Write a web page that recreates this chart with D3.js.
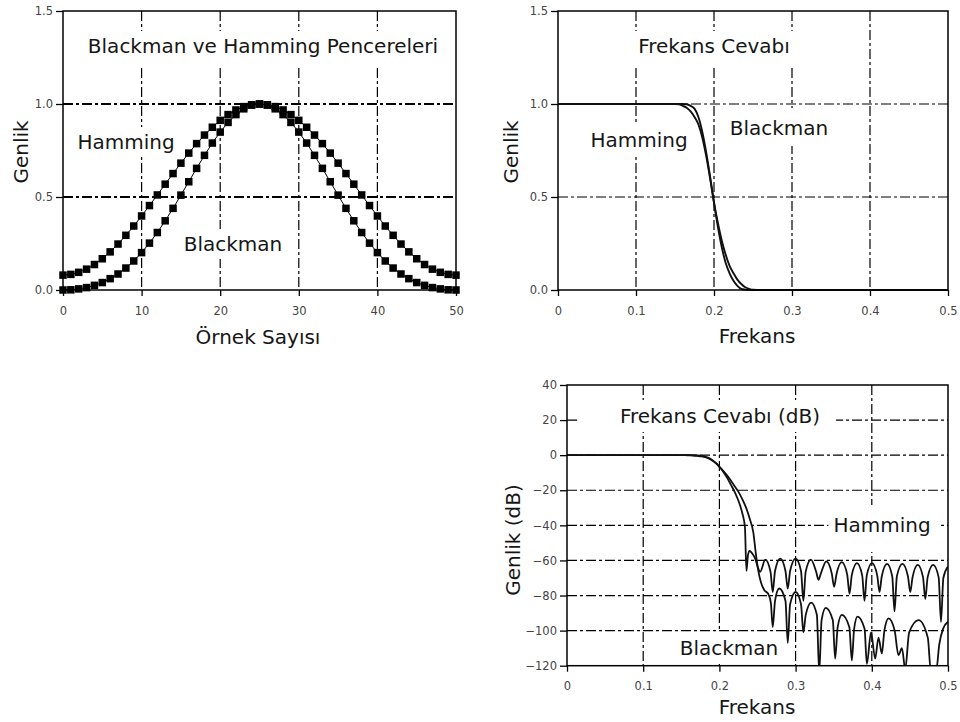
<!DOCTYPE html>
<html>
<head>
<meta charset="utf-8">
<script src="https://cdn.jsdelivr.net/npm/d3@7"></script>
<style>
  body { margin: 0; background: #fff; }
  svg text { font-family: "DejaVu Sans", Verdana, sans-serif; }
  .lbl { font-size: 20px; fill: #161616; }
  .tick text { font-size: 11.5px; fill: #444; }
  .tick line { stroke: #000; stroke-width: 1.3; }
</style>
</head>
<body>
<svg id="fig" width="960" height="722"></svg>
<script>
// ---- Window samples (n = 0 .. 50) ----
const sampleTicks = [0, 10, 20, 30, 40, 50];
const hammingWindow = [0.080,0.084,0.095,0.112,0.137,0.168,0.205,0.247,0.294,0.344,0.398,0.454,0.511,0.569,0.626,0.682,0.736,0.787,0.833,0.875,0.912,0.943,0.968,0.986,0.996,1.000,0.996,0.986,0.968,0.943,0.912,0.875,0.833,0.787,0.736,0.682,0.626,0.569,0.511,0.454,0.398,0.344,0.294,0.247,0.205,0.168,0.137,0.112,0.095,0.084,0.080];
const blackmanWindow = [0.000,0.001,0.006,0.013,0.025,0.040,0.061,0.086,0.118,0.156,0.201,0.252,0.309,0.372,0.439,0.510,0.582,0.654,0.724,0.790,0.849,0.901,0.943,0.974,0.994,1.000,0.994,0.974,0.943,0.901,0.849,0.790,0.724,0.654,0.582,0.510,0.439,0.372,0.309,0.252,0.201,0.156,0.118,0.086,0.061,0.040,0.025,0.013,0.006,0.001,0.000];

// ---- Linear frequency response ----
const ampTicks = [0, 0.5, 1.0, 1.5];
const freqTicks = [0, 0.1, 0.2, 0.3, 0.4, 0.5];
const respFreq = [0,0.05,0.10,0.15,0.155,0.16,0.165,0.17,0.175,0.18,0.185,0.19,0.195,0.20,0.205,0.21,0.215,0.22,0.225,0.23,0.235,0.24,0.245,0.25,0.26,0.30,0.40,0.50];
const hammingResp = [1,1,1,1,1,1,0.999,0.99,0.975,0.93,0.85,0.74,0.61,0.47,0.34,0.23,0.145,0.09,0.05,0.022,0.006,0.002,0.0005,0,0,0,0,0];
const blackmanResp = [1,1,1,1,0.998,0.99,0.98,0.96,0.93,0.89,0.82,0.72,0.6,0.47,0.36,0.265,0.19,0.13,0.09,0.056,0.032,0.015,0.006,0.001,0,0,0,0];

// ---- Frequency response in dB: [frequency, dB] ----
const dbTicks = [40, 20, 0, -20, -40, -60, -80, -100, -120];
const hammingDb = [
  [0,0],[0.10,0],[0.16,0],[0.165,-0.01],[0.17,-0.09],[0.175,-0.22],[0.18,-0.63],[0.185,-1.4],[0.19,-2.6],[0.195,-4.3],
  [0.20,-6.6],[0.205,-9.4],[0.21,-12.8],[0.215,-16.8],[0.22,-20.9],[0.225,-26],[0.23,-33],[0.2335,-41],
  [0.2355,-66],[0.2375,-57],[0.2395,-54.5],[0.243,-56],[0.247,-59],
  [0.2505,-64],[0.2534,-66.5],[0.2603,-59.5],[0.2671,-66.5],
  [0.2700,-78],[0.2730,-66],[0.2799,-59],[0.2867,-66],
  [0.2897,-76],[0.2928,-66],[0.3000,-59],[0.3071,-66],
  [0.3102,-83],[0.3132,-66.5],[0.3201,-59.5],[0.3270,-66.5],
  [0.3300,-71],[0.3331,-67.5],[0.3403,-60.5],[0.3475,-67.5],
  [0.3506,-75],[0.3536,-68],[0.3606,-61],[0.3677,-68],
  [0.3707,-79],[0.3737,-68.5],[0.3805,-61.5],[0.3874,-68.5],
  [0.3904,-83],[0.3934,-68.5],[0.4003,-61.5],[0.4071,-68.5],
  [0.4101,-78],[0.4131,-69],[0.4200,-62],[0.4268,-69],
  [0.4298,-89],[0.4329,-69],[0.4402,-62],[0.4474,-69],
  [0.4505,-78],[0.4535,-69.5],[0.4603,-62.5],[0.4672,-69.5],
  [0.4702,-82],[0.4733,-69.5],[0.4805,-62.5],[0.4877,-69.5],
  [0.4908,-95],[0.4939,-70],[0.5,-63.5]
];
const blackmanDb = [
  [0,0],[0.10,0],[0.155,0],[0.16,-0.09],[0.165,-0.18],[0.17,-0.35],[0.175,-0.63],[0.18,-1.0],[0.185,-1.7],[0.19,-2.85],[0.195,-4.4],
  [0.20,-6.6],[0.205,-8.9],[0.21,-11.5],[0.215,-14.4],[0.22,-17.7],[0.225,-20.9],[0.23,-25],[0.235,-29.9],[0.24,-36.5],
  [0.2445,-44],[0.2475,-55],[0.2505,-64.5],[0.2545,-72.5],[0.259,-77],[0.264,-79],[0.2675,-84],
  [0.2700,-98],[0.2730,-83],[0.2785,-76],[0.2867,-83],
  [0.2897,-107],[0.2928,-85],[0.3000,-78],[0.3071,-85],
  [0.3102,-101],[0.3133,-91],[0.3205,-84],[0.3279,-91],
  [0.3310,-124],[0.3341,-94],[0.3395,-87],[0.3488,-94],
  [0.3519,-116],[0.3552,-98],[0.3607,-91],[0.3705,-98],
  [0.3738,-117],[0.3768,-99],[0.3812,-92],[0.3905,-99],
  [0.3935,-119],[0.3990,-101],[0.4044,-116],[0.4088,-104],[0.4132,-113],
  [0.4165,-100],[0.4220,-93],[0.4300,-100],
  [0.4350,-114],[0.4395,-110],[0.4439,-122],
  [0.4490,-101],[0.4614,-94],[0.4735,-104],[0.4775,-123],[0.4845,-123],[0.4885,-108],[0.4935,-99],[0.5,-95]
];

const svg = d3.select("#fig");
const fmtAmp = d3.format(".1f");
const fmtFreq = d => d === 0 ? "0" : d3.format(".1f")(d);

// A framed plot area with dash-dot grid, boxed labels and tick axes.
function makePanel(cfg) {
  const x = d3.scaleLinear().domain(cfg.xDomain).range([cfg.left, cfg.right]);
  const y = d3.scaleLinear().domain(cfg.yDomain).range([cfg.bottom, cfg.top]);
  const g = svg.append("g");

  g.append("clipPath").attr("id", cfg.id + "-clip").append("rect")
    .attr("x", cfg.left).attr("y", cfg.top)
    .attr("width", cfg.right - cfg.left).attr("height", cfg.bottom - cfg.top);

  const grid = g.append("g").attr("fill", "none").attr("stroke", "#000").attr("stroke-dasharray", "10,3,3,3");
  grid.selectAll("line.v").data(cfg.xGrid).join("line").attr("class", "v")
    .attr("x1", d => x(d)).attr("x2", d => x(d))
    .attr("y1", cfg.top).attr("y2", cfg.bottom)
    .attr("stroke-width", 1.2);
  grid.selectAll("line.h").data(cfg.yGrid).join("line").attr("class", "h")
    .attr("x1", cfg.left).attr("x2", cfg.right)
    .attr("y1", d => y(d)).attr("y2", d => y(d))
    .attr("stroke-width", cfg.hGridWidth || 1.2);

  // labels sit on white boxes that hide the grid behind them
  const labels = g.append("g");
  cfg.labels.forEach(l => {
    const t = labels.append("text").attr("class", "lbl")
      .attr("x", l.x).attr("y", l.y).attr("text-anchor", "middle").text(l.text);
    const b = t.node().getBBox();
    const p = l.pad || [3, 5, 3, 5];
    labels.insert("rect", () => t.node())
      .attr("x", b.x - p[3]).attr("y", b.y - p[0])
      .attr("width", b.width + p[1] + p[3]).attr("height", b.height + p[0] + p[2])
      .attr("fill", "#fff");
  });

  const marks = g.append("g");

  g.append("g").attr("transform", `translate(${cfg.left},0)`)
    .call(d3.axisLeft(y).tickValues(cfg.yTicks).tickFormat(cfg.yFmt).tickSize(7).tickPadding(3))
    .call(a => a.select(".domain").remove());
  g.append("g").attr("transform", `translate(0,${cfg.bottom})`)
    .call(d3.axisBottom(x).tickValues(cfg.xTicks).tickFormat(cfg.xFmt).tickSize(6).tickPadding(cfg.xPad || 11))
    .call(a => a.select(".domain").remove());

  g.append("rect").attr("x", cfg.left).attr("y", cfg.top)
    .attr("width", cfg.right - cfg.left).attr("height", cfg.bottom - cfg.top)
    .attr("fill", "none").attr("stroke", "#000").attr("stroke-width", 1.5);

  g.append("text").attr("class", "lbl").attr("text-anchor", "middle")
    .attr("x", cfg.xTitle.x).attr("y", cfg.xTitle.y).text(cfg.xTitle.text);
  g.append("text").attr("class", "lbl").attr("text-anchor", "middle")
    .attr("transform", `translate(${cfg.yTitle.x},${cfg.yTitle.y}) rotate(-90)`).text(cfg.yTitle.text);

  return { g, marks, x, y, clip: `url(#${cfg.id}-clip)` };
}

// ---- Panel 1: the two windows ----
const p1 = makePanel({
  id: "win", left: 63, right: 456, top: 11, bottom: 290,
  xDomain: [0, 50], yDomain: [0, 1.5],
  xTicks: sampleTicks, yTicks: ampTicks, xFmt: d3.format("d"), yFmt: fmtAmp,
  xGrid: [10, 20, 30, 40], yGrid: [0.5, 1.0], hGridWidth: 1.8,
  labels: [
    { text: "Blackman ve Hamming Pencereleri", x: 263, y: 53, pad: [3, 6, 8, 6] },
    { text: "Hamming", x: 126, y: 149 },
    { text: "Blackman", x: 233, y: 251 }
  ],
  xTitle: { text: "Örnek Sayısı", x: 258, y: 344 },
  yTitle: { text: "Genlik", x: 28, y: 152 }
});
[hammingWindow, blackmanWindow].forEach(w => {
  const line = d3.line().x((d, i) => p1.x(i)).y(d => p1.y(d));
  p1.marks.append("path").attr("d", line(w)).attr("fill", "none").attr("stroke", "#000").attr("stroke-width", 1);
  p1.marks.selectAll(null).data(w).join("rect")
    .attr("x", (d, i) => p1.x(i) - 3.75).attr("y", d => p1.y(d) - 3.75)
    .attr("width", 7.5).attr("height", 7.5).attr("fill", "#000");
});

// ---- Panel 2: linear frequency response ----
const p2 = makePanel({
  id: "lin", left: 558, right: 948, top: 11, bottom: 290,
  xDomain: [0, 0.5], yDomain: [0, 1.5],
  xTicks: freqTicks, yTicks: ampTicks, xFmt: fmtFreq, yFmt: fmtAmp,
  xGrid: [0.1, 0.2, 0.3, 0.4], yGrid: [0.5, 1.0],
  labels: [
    { text: "Frekans Cevabı", x: 714, y: 53, pad: [3, 6, 8, 6] },
    { text: "Hamming", x: 639, y: 147 },
    { text: "Blackman", x: 779, y: 135, pad: [8, 5, 6, 5] }
  ],
  xTitle: { text: "Frekans", x: 757, y: 343 },
  yTitle: { text: "Genlik", x: 518, y: 152 }
});
[hammingResp, blackmanResp].forEach(r => {
  const line = d3.line().curve(d3.curveMonotoneX).x((d, i) => p2.x(respFreq[i])).y(d => p2.y(d));
  p2.marks.append("path").attr("d", line(r)).attr("fill", "none").attr("stroke", "#111").attr("stroke-width", 1.9);
});

// ---- Panel 3: frequency response in dB ----
const p3 = makePanel({
  id: "db", left: 567, right: 948, top: 385, bottom: 665.7,
  xDomain: [0, 0.5], yDomain: [-120, 40],
  xTicks: freqTicks, yTicks: dbTicks, xFmt: fmtFreq, yFmt: d3.format("d"), xPad: 10,
  xGrid: [0.1, 0.2, 0.3, 0.4], yGrid: [20, 0, -20, -40, -60, -80, -100],
  labels: [
    { text: "Frekans Cevabı (dB)", x: 720, y: 423, pad: [4, 16, 4, 40] },
    { text: "Hamming", x: 882, y: 532, pad: [8, 10, 15, 5] },
    { text: "Blackman", x: 729, y: 655, pad: [4, 5, 2, 5] }
  ],
  xTitle: { text: "Frekans", x: 757, y: 714 },
  yTitle: { text: "Genlik (dB)", x: 520, y: 540 }
});
[hammingDb, blackmanDb].forEach(s => {
  const line = d3.line().curve(d3.curveMonotoneX).x(d => p3.x(d[0])).y(d => p3.y(d[1]));
  p3.marks.append("path").attr("d", line(s)).attr("clip-path", p3.clip)
    .attr("fill", "none").attr("stroke", "#111").attr("stroke-width", 1.8);
});
</script>
</body>
</html>
